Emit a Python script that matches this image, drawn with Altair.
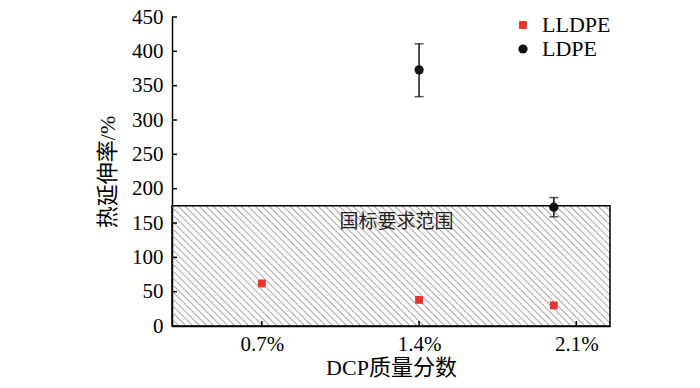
import altair as alt
import pandas as pd

# ---- data ----
dcp_pos = [0.7, 1.4, 2.0]            # plotted x positions of the samples
lldpe_val = [62, 38, 30]
ldpe_pos = [1.4, 2.0]
ldpe_val = [373, 173]
ldpe_lo = [334, 159]
ldpe_hi = [411, 187]
x_ticks = [0.7, 1.4, 2.1]
y_ticks = [0, 50, 100, 150, 200, 250, 300, 350, 400, 450]
limit = 175                            # 国标要求 upper limit
note = "国标要求范围"

X_DOM = [0.3, 2.25]
Y_DOM = [0, 450]
W, H = 438, 309
SERIF = "Liberation Serif, Noto Sans CJK SC"

pts = pd.DataFrame(
    {"x": dcp_pos + ldpe_pos,
     "y": lldpe_val + ldpe_val,
     "s": ["LLDPE"] * 3 + ["LDPE"] * 2}
)
err = pd.DataFrame({"x": ldpe_pos, "lo": ldpe_lo, "hi": ldpe_hi})

xs = alt.Scale(domain=X_DOM, nice=False, zero=False)
ys = alt.Scale(domain=Y_DOM, nice=False, zero=True)

xaxis = alt.Axis(values=x_ticks, labelExpr="format(datum.value, '.1f') + '%'",
                 title="DCP质量分数", labelPadding=7, titlePadding=3)
yaxis = alt.Axis(values=y_ticks, title="热延伸率/%", labelPadding=9, titlePadding=12)


def X(f):
    return alt.X(f, scale=xs, axis=xaxis)


def Y(f):
    return alt.Y(f, scale=ys, axis=yaxis)


# hatch lines (decoration of the limit box)
rect_h_px = limit * H / (Y_DOM[1] - Y_DOM[0])
dx = rect_h_px / (W / (X_DOM[1] - X_DOM[0]))
step = 7 / (W / (X_DOM[1] - X_DOM[0]))
hatch = (
    alt.Chart(alt.sequence(X_DOM[0] - dx, X_DOM[1] + step, step, as_="x0"))
    .transform_calculate(x1=f"datum.x0 + {dx}", yt=f"{limit}", yb="0")
    .mark_rule(color="#b3aaa6", strokeWidth=1.1, clip=True)
    .encode(x=X("x0:Q"), x2="x1:Q", y=Y("yt:Q"), y2="yb:Q")
)

box = (
    alt.Chart(pd.DataFrame({"a": [X_DOM[0]], "b": [X_DOM[1]], "c": [0], "d": [limit]}))
    .mark_rect(fill=None, stroke="black", strokeWidth=1.5)
    .encode(x=X("a:Q"), x2="b:Q", y=Y("c:Q"), y2="d:Q")
)

label = (
    alt.Chart(pd.DataFrame({"x": [1.3], "y": [152], "t": [note]}))
    .mark_text(font=SERIF, fontSize=19, color="#222")
    .encode(x=X("x:Q"), y=Y("y:Q"), text="t:N")
)

yt_rules = (
    alt.Chart(pd.DataFrame({"v": y_ticks}))
    .mark_rule(color="black", strokeWidth=1.5)
    .encode(y=Y("v:Q"), x=alt.value(0), x2=alt.value(5))
)
xt_rules = (
    alt.Chart(pd.DataFrame({"v": x_ticks}))
    .mark_rule(color="black", strokeWidth=1.5)
    .encode(x=X("v:Q"), y=alt.value(H), y2=alt.value(H - 5))
)

bars = alt.Chart(err).mark_rule(color="#111", strokeWidth=1.5).encode(
    x=X("x:Q"), y=Y("lo:Q"), y2="hi:Q")
caps_lo = alt.Chart(err).mark_tick(color="#111", orient="horizontal", size=9, thickness=1.5).encode(
    x=X("x:Q"), y=Y("lo:Q"))
caps_hi = alt.Chart(err).mark_tick(color="#111", orient="horizontal", size=9, thickness=1.5).encode(
    x=X("x:Q"), y=Y("hi:Q"))

legend = alt.Legend(title=None, orient="none", legendX=340, legendY=-3,
                    labelFont=SERIF, labelFontSize=22, labelColor="black",
                    rowPadding=2, labelOffset=8, symbolStrokeWidth=0)
points = (
    alt.Chart(pts)
    .mark_point(filled=True, opacity=1, strokeWidth=0)
    .encode(
        x=X("x:Q"),
        y=Y("y:Q"),
        color=alt.Color("s:N", scale=alt.Scale(domain=["LLDPE", "LDPE"], range=["#e8342c", "#111111"]), legend=legend),
        shape=alt.Shape("s:N", scale=alt.Scale(domain=["LLDPE", "LDPE"], range=["square", "circle"]), legend=legend),
        size=alt.Size("s:N", scale=alt.Scale(domain=["LLDPE", "LDPE"], range=[62, 85]), legend=legend),
    )
)

chart = (
    alt.layer(hatch, box, label, yt_rules, xt_rules, bars, caps_lo, caps_hi, points)
    .properties(width=W, height=H, padding={"left": 164, "top": 9, "right": 70, "bottom": 60},
                autosize=alt.AutoSizeParams(type="none"), background="white")
    .configure_view(stroke=None)
    .configure_axis(ticks=False, grid=False, domainColor="black", domainWidth=1.5,
                    labelFont=SERIF, labelFontSize=21, labelColor="black",
                    labelOverlap=False, labelFlush=False, titleFont=SERIF,
                    titleFontSize=22, titleFontWeight="normal", titleColor="black")
)

chart.save("out.html", embed_options={"renderer": "svg", "actions": False})
